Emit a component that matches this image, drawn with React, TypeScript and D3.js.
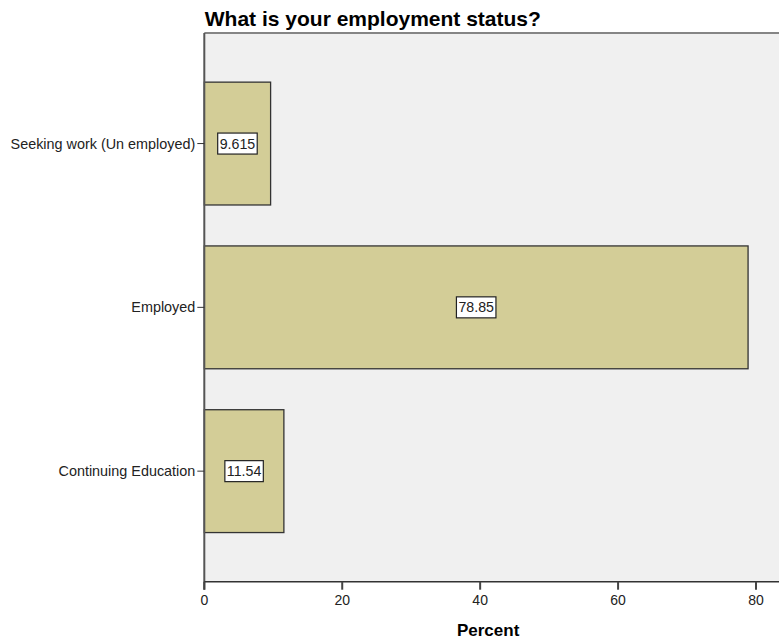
import { useRef, useEffect } from "react";
import * as d3 from "d3";

const categories = ["Seeking work (Un employed)", "Employed", "Continuing Education"];
const percents = [9.615, 78.85, 11.54];
const valueLabels = ["9.615", "78.85", "11.54"];
const xTicks = [0, 20, 40, 60, 80];

const W = 779;
const H = 639;

export default function App() {
  const svgRef = useRef<SVGSVGElement>(null);

  useEffect(() => {
    if (!svgRef.current) return;
    const svg = d3.select(svgRef.current);
    svg.selectAll("*").remove();

    const left = 204.3;
    const top = 33;
    const bottom = 581.7;
    const font = "Liberation Sans, Arial, sans-serif";

    const x = d3.scaleLinear().domain([0, 80]).range([left, 756]);
    const y = d3
      .scaleBand<string>()
      .domain(categories)
      .range([top, bottom])
      .paddingInner(0.25)
      .paddingOuter(0.3);

    // plot background + frame
    svg.append("rect")
      .attr("x", left).attr("y", top)
      .attr("width", W - left + 10).attr("height", bottom - top)
      .attr("fill", "#f0f0f0");
    svg.append("line")
      .attr("x1", left).attr("x2", W + 5)
      .attr("y1", top).attr("y2", top)
      .attr("stroke", "#858585").attr("stroke-width", 2);

    // title
    svg.append("text")
      .attr("x", left + 0.5).attr("y", 26)
      .attr("font-family", font).attr("font-weight", "bold")
      .attr("font-size", 21).attr("fill", "#000")
      .text("What is your employment status?");

    // bars
    categories.forEach((c, i) => {
      const y0 = y(c)!;
      svg.append("rect")
        .attr("x", x(0)).attr("y", y0)
        .attr("width", x(percents[i]) - x(0)).attr("height", y.bandwidth())
        .attr("fill", "#d3cd97")
        .attr("stroke", "#333").attr("stroke-width", 1.3);
    });

    // y axis
    svg.append("line")
      .attr("x1", left).attr("x2", left)
      .attr("y1", top).attr("y2", bottom + 8)
      .attr("stroke", "#555").attr("stroke-width", 2);
    categories.forEach((c) => {
      const cy = y(c)! + y.bandwidth() / 2;
      svg.append("line")
        .attr("x1", left - 7).attr("x2", left)
        .attr("y1", cy).attr("y2", cy)
        .attr("stroke", "#333").attr("stroke-width", 1);
      svg.append("text")
        .attr("x", left - 9).attr("y", cy).attr("dy", "0.35em")
        .attr("text-anchor", "end")
        .attr("font-family", font).attr("font-size", 14.4).attr("fill", "#222")
        .text(c);
    });

    // x axis
    svg.append("line")
      .attr("x1", left).attr("x2", W + 5)
      .attr("y1", bottom).attr("y2", bottom)
      .attr("stroke", "#333").attr("stroke-width", 1.5);
    xTicks.forEach((t) => {
      svg.append("line")
        .attr("x1", x(t)).attr("x2", x(t))
        .attr("y1", bottom).attr("y2", bottom + 8)
        .attr("stroke", "#444").attr("stroke-width", 2);
      svg.append("text")
        .attr("x", x(t)).attr("y", bottom + 18.5).attr("dy", "0.35em")
        .attr("text-anchor", "middle")
        .attr("font-family", font).attr("font-size", 14).attr("fill", "#222")
        .text(String(t));
    });
    svg.append("text")
      .attr("x", (x(0) + x(80)) / 2 + 8).attr("y", 636)
      .attr("text-anchor", "middle")
      .attr("font-family", font).attr("font-weight", "bold")
      .attr("font-size", 17).attr("fill", "#000")
      .text("Percent");

    // value labels
    categories.forEach((c, i) => {
      const cx = (x(0) + x(percents[i])) / 2;
      const cy = y(c)! + y.bandwidth() / 2;
      const g = svg.append("g");
      const rect = g.append("rect").attr("fill", "#fff").attr("stroke", "#222").attr("stroke-width", 1.2);
      const txt = g.append("text")
        .attr("x", cx).attr("y", cy).attr("dy", "0.36em")
        .attr("text-anchor", "middle")
        .attr("font-family", font).attr("font-size", 14.2).attr("fill", "#222")
        .text(valueLabels[i]);
      const w = (txt.node() as SVGTextElement).getComputedTextLength() + 4;
      const h = 21;
      rect.attr("x", cx - w / 2).attr("y", cy - h / 2).attr("width", w).attr("height", h);
    });
  }, []);

  return (
    <svg
      ref={svgRef}
      width={W}
      height={H}
      style={{ position: "absolute", left: 0, top: 0, background: "#fff" }}
    />
  );
}
